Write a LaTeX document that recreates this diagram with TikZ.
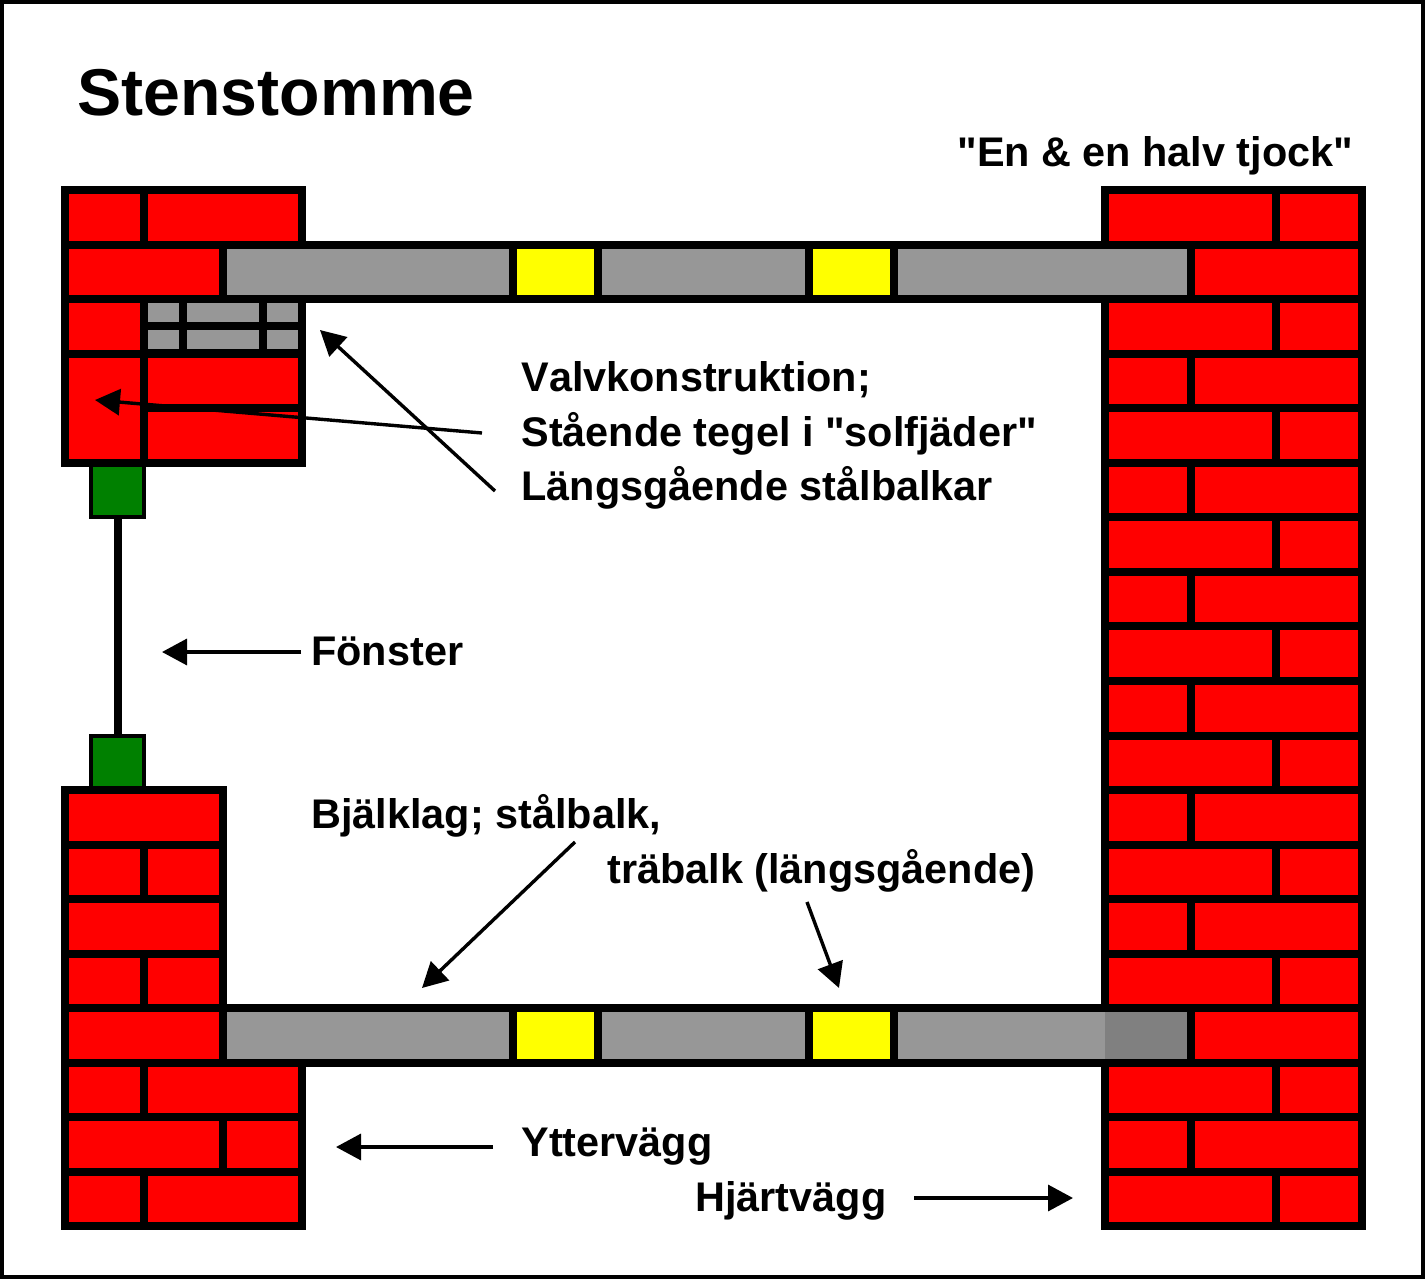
\documentclass[tikz,border=0pt]{standalone}
\usepackage{fontspec}
\setmainfont[Ligatures=TeXOff,Kerning=Off]{Liberation Sans}
\usetikzlibrary{arrows.meta}

\definecolor{steelgray}{HTML}{979797}
\definecolor{windowgreen}{HTML}{008000}
\definecolor{shadegray}{HTML}{808080}
\definecolor{woodyellow}{HTML}{FFFF00}
\tikzset{
	brick/.style={draw=black,line width=4pt,fill=red},
	beam/.style={draw=black,line width=4pt,fill=steelgray},
	wood/.style={draw=black,line width=4pt,fill=woodyellow},
	frame/.style={draw=black,line width=2pt,fill=windowgreen},
	caption/.style={anchor=base west,inner sep=0pt,font=\fontsize{20.7pt}{20.7pt}\bfseries},
	pointer/.style={draw=black,line width=1.7pt,-{Triangle[length=12.5pt,width=13pt]}}
}

\begin{document}
\begin{tikzpicture}[x=0.5pt,y=-0.5pt]
	\useasboundingbox (0,0) rectangle (1425,1279);
	\draw[line width=2pt] (2,2) rectangle (1423,1277);

	% upper left pier
	\draw[brick] (65,190) rectangle (144,244.5);
	\draw[brick] (144,190) rectangle (302,244.5);
	\draw[brick] (65,244.5) rectangle (223,299);
	\draw[brick] (65,299) rectangle (144,353.5);
	\draw[brick] (65,353.5) rectangle (144,462.5);
	\draw[brick] (144,353.5) rectangle (302,408);
	\draw[brick] (144,408) rectangle (302,462.5);
	\foreach \y in {299,326} {
		\draw[beam] (144,\y) rectangle (183,\y+27.25);
		\draw[beam] (183,\y) rectangle (263,\y+27.25);
		\draw[beam] (263,\y) rectangle (302,\y+27.25);
	}

	% lower left pier
	\foreach \y in {0,2,4}
		\draw[brick] (65,790+54.55*\y) rectangle (223,844.55+54.55*\y);
	\foreach \y in {1,3} {
		\draw[brick] (65,790+54.55*\y) rectangle (144,844.55+54.55*\y);
		\draw[brick] (144,790+54.55*\y) rectangle (223,844.55+54.55*\y);
	}
	\foreach \y in {5,7} {
		\draw[brick] (65,790+54.55*\y) rectangle (144,844.55+54.55*\y);
		\draw[brick] (144,790+54.55*\y) rectangle (302,844.55+54.55*\y);
	}
	\draw[brick] (65,1117.3) rectangle (223,1171.85);
	\draw[brick] (223,1117.3) rectangle (302,1171.85);

	% heart wall
	\foreach \y in {0,2,...,18} {
		\draw[brick] (1105,190+54.55*\y) rectangle (1276,244.55+54.55*\y);
		\draw[brick] (1276,190+54.55*\y) rectangle (1362,244.55+54.55*\y);
	}
	\foreach \y in {1,3,...,17} {
		\draw[brick] (1105,190+54.55*\y) rectangle (1191,244.55+54.55*\y);
		\draw[brick] (1191,190+54.55*\y) rectangle (1362,244.55+54.55*\y);
	}

	% floors
	\foreach \y in {244.55,1008.25} {
		\draw[beam] (223,\y) rectangle (512.7,\y+54.55);
		\draw[wood] (512.7,\y) rectangle (598.3,\y+54.55);
		\draw[beam] (598.3,\y) rectangle (809,\y+54.55);
		\draw[wood] (809,\y) rectangle (894.3,\y+54.55);
		\draw[beam] (894.3,\y) rectangle (1191,\y+54.55);
	}
	\fill[shadegray] (1105,1012.25) rectangle (1187,1058.8);

	% window
	\draw[line width=4pt] (118,517) -- (118,735.5);
	\draw[frame] (91,462.5) rectangle (144,517);
	\draw[frame] (91,735.5) rectangle (144,790);
	\draw[line width=4pt] (61,462.5) -- (306,462.5);
	\draw[line width=4pt] (61,790) -- (227,790);

	% texts
	\node[caption,font=\fontsize{33.1pt}{33.1pt}\bfseries] (title) at (77,116) {Stenstomme};
	\node[caption] (thick) at (957,167) {"En \& en halv tjock"};
	\node[caption] (vault) at (521,391) {Valvkonstruktion;};
	\node[caption] (fan) at (521,446) {Stående tegel i "solfjäder"};
	\node[caption] (steel) at (521,500) {Längsgående stålbalkar};
	\node[caption] (window) at (311,665) {Fönster};
	\node[caption] (joist) at (311,828) {Bjälklag; stålbalk,};
	\node[caption] (timber) at (607,883) {träbalk (längsgående)};
	\node[caption] (outer) at (521,1156) {Yttervägg};
	\node[caption] (heart) at (695,1211) {Hjärtvägg};

	% pointers
	\coordinate (fan end) at (482,433);
	\coordinate (fan tip) at (95,400);
	\coordinate (steel end) at (495,491);
	\coordinate (steel tip) at (320,330);
	\coordinate (window end) at (301,652);
	\coordinate (window tip) at (162,652);
	\coordinate (joist end) at (575,842);
	\coordinate (joist tip) at (422,988);
	\coordinate (timber end) at (807,902);
	\coordinate (timber tip) at (839,988);
	\coordinate (outer end) at (493,1147);
	\coordinate (outer tip) at (336,1147);
	\coordinate (heart end) at (914,1198);
	\coordinate (heart tip) at (1073,1198);
	\foreach \a in {fan,steel,window,joist,timber,outer,heart}
		\draw[pointer] (\a\space end) -- (\a\space tip);
\end{tikzpicture}
\end{document}
